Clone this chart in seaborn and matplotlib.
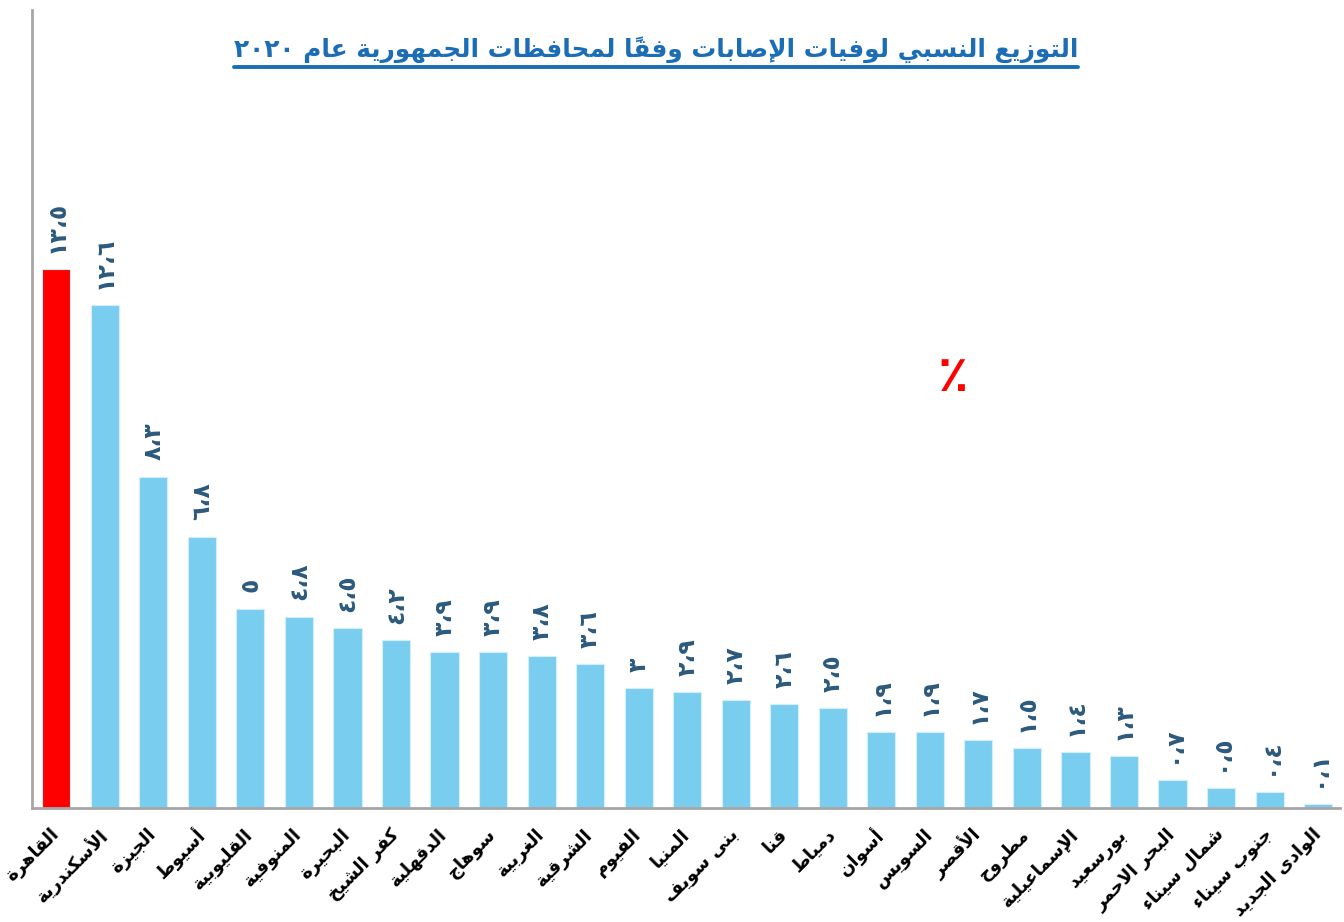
import matplotlib

matplotlib.use("Agg")
import matplotlib.pyplot as plt
from matplotlib.lines import Line2D
import seaborn as sns

# ---- data ------------------------------------------------------------------
governorates = [
    "القاهرة", "الأسكندرية", "الجيزة", "أسيوط", "القليوبية", "المنوفية", "البحيرة",
    "كفر الشيخ", "الدقهلية", "سوهاج", "الغربية", "الشرقية", "الفيوم", "المنيا",
    "بنى سويف", "قنا", "دمياط", "أسوان", "السويس", "الأقصر", "مطروح", "الإسماعيلية",
    "بورسعيد", "البحر الاحمر", "شمال سيناء", "جنوب سيناء", "الوادى الجديد",
]
death_share = [
    13.5, 12.6, 8.3, 6.8, 5, 4.8, 4.5, 4.2, 3.9, 3.9, 3.8, 3.6, 3, 2.9,
    2.7, 2.6, 2.5, 1.9, 1.9, 1.7, 1.5, 1.4, 1.3, 0.7, 0.5, 0.4, 0.1,
]
highlight = "القاهرة"
title = "التوزيع النسبي لوفيات الإصابات وفقاً لمحافظات الجمهورية عام ٢٠٢٠"

RED = "#ff0000"
SKY = "#79cdef"
LABEL_BLUE = "#2c5a7c"
TITLE_BLUE = "#1b6db6"

# ---- minimal Arabic shaping (matplotlib has no complex text layout) --------
# letter -> (first presentation form code point, number of forms)
FORMS = {
    "ء": (0xFE80, 1), "آ": (0xFE81, 2), "أ": (0xFE83, 2), "ؤ": (0xFE85, 2), "إ": (0xFE87, 2),
    "ئ": (0xFE89, 4), "ا": (0xFE8D, 2), "ب": (0xFE8F, 4), "ة": (0xFE93, 2), "ت": (0xFE95, 4),
    "ث": (0xFE99, 4), "ج": (0xFE9D, 4), "ح": (0xFEA1, 4), "خ": (0xFEA5, 4), "د": (0xFEA9, 2),
    "ذ": (0xFEAB, 2), "ر": (0xFEAD, 2), "ز": (0xFEAF, 2), "س": (0xFEB1, 4), "ش": (0xFEB5, 4),
    "ص": (0xFEB9, 4), "ض": (0xFEBD, 4), "ط": (0xFEC1, 4), "ظ": (0xFEC5, 4), "ع": (0xFEC9, 4),
    "غ": (0xFECD, 4), "ف": (0xFED1, 4), "ق": (0xFED5, 4), "ك": (0xFED9, 4), "ل": (0xFEDD, 4),
    "م": (0xFEE1, 4), "ن": (0xFEE5, 4), "ه": (0xFEE9, 4), "و": (0xFEED, 2), "ى": (0xFEEF, 2),
    "ي": (0xFEF1, 4),
}
LAM_ALEF = {"آ": 0xFEF5, "أ": 0xFEF7, "إ": 0xFEF9, "ا": 0xFEFB}
MARKS = set("\u064b\u064c\u064d\u064e\u064f\u0650\u0651\u0652")


def shape_word(word):
    if not any(ch in FORMS for ch in word):
        return word  # digits etc. stay left-to-right
    units = []  # [base glyph code, n forms, marks]
    i = 0
    while i < len(word):
        ch = word[i]
        if ch in MARKS and units:
            units[-1][2] += ch
        elif ch == "ل" and i + 1 < len(word) and word[i + 1] in LAM_ALEF:
            units.append([LAM_ALEF[word[i + 1]], 2, ""])
            i += 1
        elif ch in FORMS:
            start, n = FORMS[ch]
            units.append([start, n, ""])
        else:
            units.append([ord(ch), 0, ""])
        i += 1
    out = []
    for k, (start, n, marks) in enumerate(units):
        prev_joins = k > 0 and units[k - 1][1] == 4 and n >= 2
        next_joins = n == 4 and k + 1 < len(units) and units[k + 1][1] >= 2
        if n == 0:
            glyph = chr(start)
        elif n == 4:
            glyph = chr(start + {(0, 0): 0, (1, 0): 1, (0, 1): 2, (1, 1): 3}[(prev_joins, next_joins)])
        else:
            glyph = chr(start + (1 if prev_joins and n == 2 else 0))
        out.append(glyph + marks)
    return "".join(reversed(out))


def shape(text):
    lines = []
    for line in text.split("\n"):
        words = [shape_word(w) for w in line.split(" ")]
        lines.append(" ".join(reversed(words)))
    return "\n".join(lines)


def arabic_number(value):
    digits = str.maketrans("0123456789.", "٠١٢٣٤٥٦٧٨٩،")
    return f"{value:g}".translate(digits)


# ---- plot ------------------------------------------------------------------
sns.set_theme(style="white")
plt.rcParams["font.family"] = ["DejaVu Sans"]

fig = plt.figure(figsize=(13.44, 9.22), dpi=100)
ax = fig.add_axes([0.0238, 0.1236, 0.9732, 0.8655])

colours = [RED if g == highlight else SKY for g in governorates]
sns.barplot(
    x=governorates,
    y=death_share,
    hue=governorates,
    palette=colours,
    saturation=1,
    legend=False,
    width=0.58,
    edgecolor="#d4eefa",
    linewidth=0.8,
    ax=ax,
)

for pos, value in enumerate(death_share):
    ax.annotate(
        arabic_number(value),
        xy=(pos, value),
        xytext=(0, 12),
        textcoords="offset points",
        rotation=90,
        ha="center",
        va="bottom",
        fontsize=17,
        fontweight="bold",
        color=LABEL_BLUE,
    )

ax.set_xlim(-0.5, 26.45)
ax.set_ylim(0, 20)
ax.set_yticks([])
ax.set_xticks(range(len(governorates)))
ax.set_xticklabels(
    [shape(g) for g in governorates],
    rotation=45,
    ha="right",
    va="center",
    rotation_mode="anchor",
    fontsize=13,
    fontweight="bold",
    color="black",
)
ax.tick_params(axis="x", length=0, pad=17)
ax.set_xlabel("")
ax.set_ylabel("")
sns.despine(ax=ax, top=True, right=True)
for side in ("left", "bottom"):
    ax.spines[side].set_color("#a6a6a6")
    ax.spines[side].set_linewidth(2)

ax.text(0.704, 0.54, "٪", transform=ax.transAxes, ha="center", va="center",
        fontsize=36, fontweight="bold", color=RED)

title_text = fig.text(0.488, 1 - 50 / 922, shape(title), ha="center", va="center",
                      fontsize=17.8, fontweight="bold", color=TITLE_BLUE)

# underline the title under its drawn extent
fig.canvas.draw()
bbox = title_text.get_window_extent().transformed(fig.transFigure.inverted())
fig.add_artist(Line2D([bbox.x0, bbox.x1], [bbox.y0 - 0.004] * 2,
                      transform=fig.transFigure, color=TITLE_BLUE, linewidth=2.8))

fig.savefig("out.png", dpi=100)
plt.close(fig)
